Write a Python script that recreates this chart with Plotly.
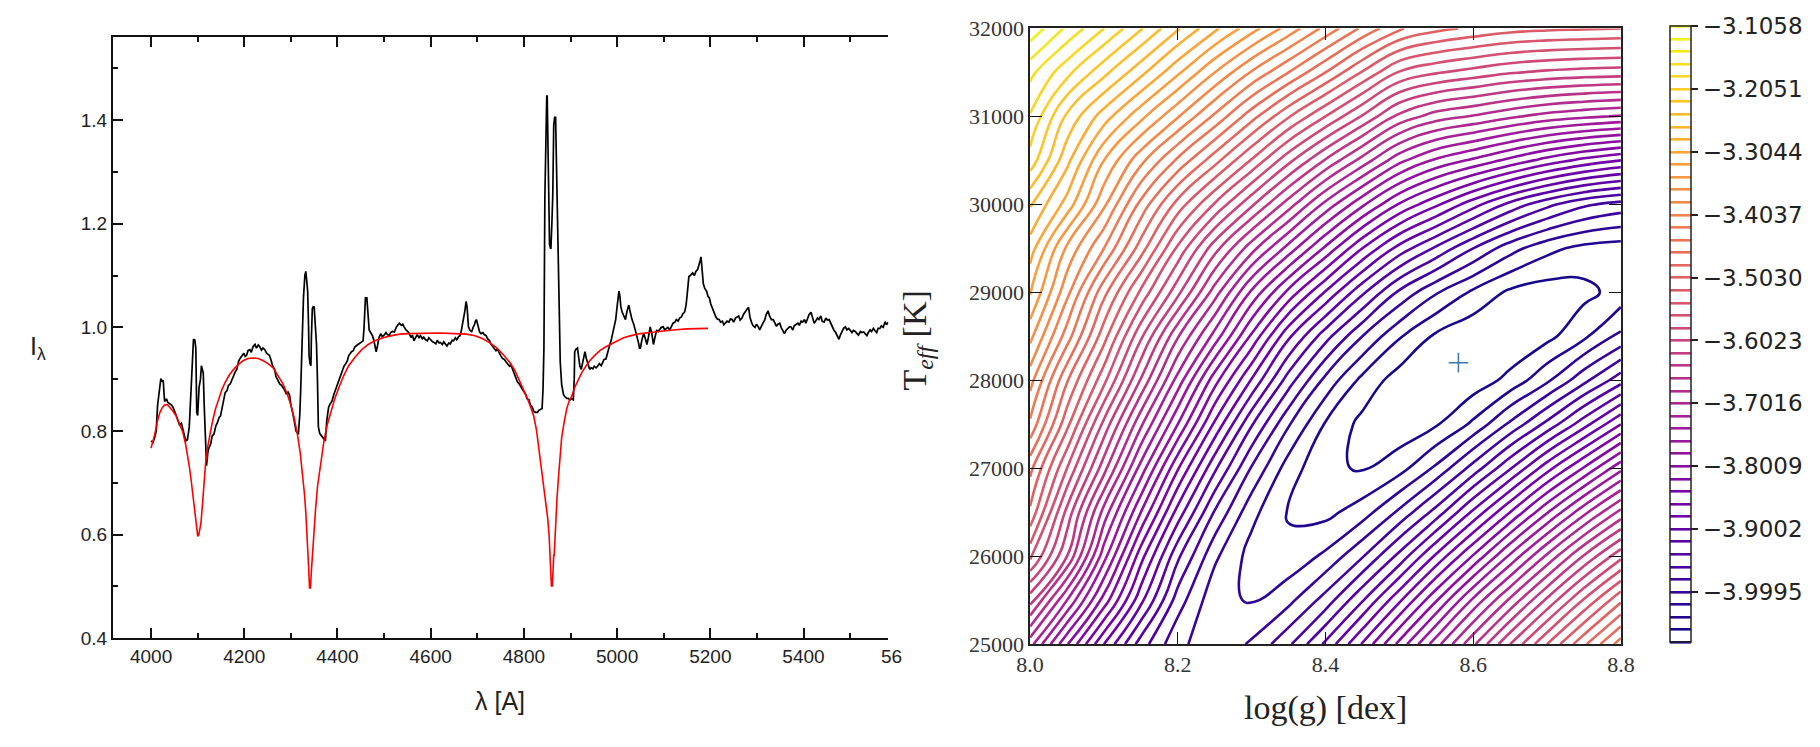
import plotly.graph_objects as go

# ---------------- left panel: observed spectrum and model fit ----------------
wl_obs = [4000,4004,4008,4011,4014,4018,4021,4024,4026,4029,4033,4036,4040,4044,4047,4051,4054,4057,4061,4065,4068,4072,4075,4078,4082,4085,4087,4089,4091,4094,4096,4098,4100,4103,4106,4108,4110,4112,4114,4116,4119,4122,4124,4128,4131,4135,4139,4142,4146,4149,4153,4156,4159,4163,4166,4170,4174,4177,4181,4184,4188,4191,4195,4199,4202,4205,4208,4212,4215,4219,4223,4226,4230,4233,4237,4240,4244,4248,4251,4254,4258,4261,4265,4268,4272,4276,4280,4283,4286,4290,4294,4297,4300,4304,4307,4311,4316,4319,4321,4324,4327,4330,4332,4334,4336,4338,4339,4341,4343,4344,4346,4348,4350,4352,4355,4357,4359,4362,4365,4367,4371,4374,4377,4381,4384,4388,4392,4396,4400,4403,4407,4410,4414,4417,4421,4424,4427,4430,4434,4437,4441,4444,4448,4451,4455,4457,4459,4460,4463,4465,4468,4471,4475,4478,4481,4483,4486,4489,4493,4496,4500,4504,4507,4511,4514,4518,4522,4526,4530,4533,4537,4540,4543,4547,4551,4554,4558,4561,4564,4568,4571,4575,4578,4582,4585,4589,4593,4596,4600,4604,4607,4611,4614,4618,4621,4625,4628,4632,4635,4639,4642,4646,4649,4653,4656,4660,4663,4666,4668,4670,4673,4676,4678,4681,4684,4688,4691,4694,4696,4698,4701,4705,4708,4712,4715,4719,4722,4726,4729,4733,4736,4740,4743,4747,4750,4754,4758,4762,4765,4769,4772,4776,4779,4783,4786,4790,4793,4797,4800,4804,4807,4811,4814,4818,4821,4825,4829,4832,4836,4839,4841,4843,4845,4847,4849,4850,4852,4853,4855,4857,4858,4860,4862,4864,4866,4868,4870,4872,4874,4876,4878,4881,4885,4888,4892,4895,4899,4902,4906,4908,4909,4912,4915,4917,4920,4923,4926,4929,4931,4934,4938,4941,4944,4948,4951,4955,4958,4962,4966,4969,4972,4976,4980,4983,4987,4990,4994,4997,5000,5002,5004,5006,5008,5011,5014,5016,5018,5021,5023,5025,5028,5030,5032,5036,5039,5043,5046,5048,5050,5053,5055,5057,5060,5062,5064,5067,5069,5071,5074,5076,5078,5081,5083,5085,5088,5092,5095,5099,5102,5106,5109,5113,5116,5120,5124,5127,5131,5134,5138,5141,5145,5148,5150,5152,5154,5157,5160,5162,5166,5169,5173,5176,5178,5180,5182,5183,5185,5188,5192,5195,5198,5201,5205,5208,5212,5215,5219,5222,5226,5229,5233,5236,5240,5243,5247,5250,5254,5257,5261,5264,5268,5271,5275,5278,5282,5285,5289,5292,5296,5299,5303,5306,5310,5313,5317,5320,5324,5327,5331,5335,5338,5342,5345,5349,5352,5356,5359,5363,5366,5370,5373,5377,5380,5384,5388,5391,5395,5398,5402,5405,5409,5412,5416,5419,5423,5426,5430,5433,5437,5440,5444,5448,5451,5455,5458,5462,5465,5469,5472,5476,5479,5483,5486,5490,5493,5497,5500,5504,5507,5511,5515,5518,5522,5525,5529,5532,5536,5539,5543,5546,5550,5553,5557,5560,5564,5567,5571,5575,5578,5582]
flux_obs = [0.781,0.778,0.788,0.800,0.850,0.880,0.901,0.895,0.898,0.857,0.862,0.855,0.853,0.850,0.846,0.838,0.830,0.822,0.812,0.815,0.801,0.790,0.781,0.783,0.808,0.860,0.884,0.930,0.977,0.975,0.960,0.836,0.830,0.884,0.900,0.926,0.918,0.912,0.850,0.781,0.733,0.760,0.767,0.775,0.790,0.794,0.810,0.815,0.826,0.829,0.845,0.862,0.874,0.878,0.888,0.891,0.900,0.908,0.915,0.919,0.935,0.940,0.946,0.950,0.944,0.946,0.955,0.957,0.952,0.963,0.967,0.960,0.966,0.963,0.956,0.960,0.957,0.950,0.948,0.946,0.935,0.925,0.919,0.905,0.898,0.891,0.888,0.884,0.880,0.872,0.875,0.870,0.850,0.835,0.822,0.800,0.794,0.830,0.877,0.980,1.057,1.100,1.108,1.090,1.070,1.000,0.946,0.930,0.926,0.980,1.036,1.040,1.039,1.010,0.967,0.900,0.808,0.795,0.792,0.788,0.785,0.781,0.820,0.846,0.852,0.857,0.870,0.880,0.890,0.898,0.910,0.915,0.925,0.929,0.935,0.945,0.950,0.953,0.955,0.962,0.965,0.967,0.970,0.972,0.974,1.000,1.040,1.057,1.057,1.030,0.995,0.990,0.984,0.975,0.960,0.953,0.965,0.980,0.988,0.982,0.985,0.990,0.986,0.984,0.990,0.992,0.991,1.000,1.005,1.008,1.004,1.006,1.001,0.995,0.992,0.988,0.980,0.985,0.974,0.982,0.986,0.980,0.984,0.978,0.981,0.976,0.974,0.980,0.975,0.972,0.971,0.968,0.975,0.970,0.971,0.967,0.972,0.966,0.964,0.970,0.968,0.975,0.974,0.980,0.976,0.982,0.984,0.995,1.010,1.015,1.030,1.050,1.040,1.001,0.995,0.991,1.000,1.005,1.012,1.015,1.005,0.991,0.988,0.990,0.986,0.984,0.978,0.975,0.968,0.964,0.960,0.955,0.958,0.950,0.946,0.940,0.938,0.933,0.930,0.925,0.928,0.919,0.910,0.900,0.895,0.891,0.885,0.880,0.876,0.870,0.862,0.860,0.850,0.846,0.838,0.836,0.836,0.840,0.842,0.843,0.880,0.960,1.250,1.400,1.446,1.446,1.300,1.264,1.160,1.153,1.153,1.200,1.257,1.390,1.405,1.405,1.300,1.167,1.100,1.000,0.933,0.890,0.870,0.866,0.863,0.863,0.860,0.862,0.860,0.900,0.953,0.958,0.960,0.946,0.926,0.919,0.930,0.946,0.953,0.940,0.926,0.919,0.922,0.920,0.925,0.922,0.925,0.930,0.926,0.932,0.938,0.939,0.950,0.962,0.974,0.985,1.000,1.015,1.040,1.060,1.070,1.060,1.040,1.029,1.022,1.020,1.015,1.030,1.040,1.043,1.030,1.018,1.015,1.005,0.995,0.985,0.970,0.960,0.960,0.975,0.985,0.988,0.980,0.970,0.967,0.980,0.995,1.001,0.990,0.975,0.967,0.980,0.990,0.995,0.992,0.998,1.000,1.001,0.995,0.998,1.000,0.995,1.002,1.008,1.010,1.015,1.012,1.018,1.020,1.026,1.030,1.043,1.060,1.085,1.098,1.100,1.102,1.105,1.100,1.108,1.112,1.120,1.128,1.136,1.120,1.100,1.084,1.075,1.070,1.060,1.057,1.045,1.035,1.029,1.020,1.016,1.015,1.010,1.012,1.005,1.008,1.012,1.010,1.016,1.015,1.010,1.018,1.020,1.022,1.014,1.018,1.025,1.029,1.034,1.039,1.020,1.008,1.003,1.000,1.006,1.001,0.995,1.003,1.008,1.015,1.025,1.032,1.022,1.015,1.015,1.010,1.002,1.006,1.008,1.000,0.993,0.988,0.995,0.998,1.001,1.001,0.995,1.003,1.006,1.008,1.004,1.012,1.010,1.015,1.008,1.020,1.025,1.029,1.018,1.008,1.012,1.018,1.015,1.022,1.012,1.010,1.018,1.014,1.015,1.008,1.000,0.995,0.990,0.985,0.977,0.985,0.992,0.998,1.001,0.995,0.998,0.995,0.990,0.994,0.992,0.988,0.985,0.992,0.990,0.991,0.988,0.984,0.990,0.995,0.992,0.998,0.994,0.990,0.998,0.998,1.003,1.000,1.011,1.005,1.010]

wl_fit = [4000,4008,4014,4019,4024,4029,4035,4040,4047,4054,4061,4068,4074,4078,4082,4086,4090,4093,4096,4098,4100,4102,4104,4107,4110,4114,4117,4121,4126,4131,4138,4145,4152,4159,4168,4177,4188,4198,4208,4219,4230,4240,4251,4262,4272,4283,4292,4300,4307,4314,4320,4325,4329,4332,4335,4338,4340,4342,4344,4346,4349,4353,4357,4362,4366,4371,4378,4385,4394,4403,4413,4424,4438,4452,4466,4480,4498,4516,4534,4551,4580,4621,4650,4677,4695,4712,4727,4741,4755,4769,4780,4790,4799,4807,4815,4821,4827,4832,4837,4842,4847,4851,4854,4856,4857,4858,4859,4861,4862,4864,4865,4867,4869,4871,4875,4878,4881,4886,4892,4897,4902,4909,4917,4925,4933,4941,4951,4963,4975,4987,5000,5014,5030,5050,5071,5095,5120,5150,5170,5195]
flux_fit = [0.767,0.794,0.820,0.836,0.845,0.850,0.851,0.846,0.838,0.829,0.815,0.798,0.775,0.757,0.732,0.705,0.672,0.650,0.625,0.605,0.598,0.598,0.607,0.622,0.655,0.705,0.738,0.767,0.793,0.815,0.842,0.863,0.880,0.894,0.908,0.919,0.929,0.936,0.940,0.941,0.940,0.936,0.930,0.922,0.907,0.891,0.872,0.850,0.825,0.794,0.758,0.719,0.680,0.643,0.600,0.539,0.497,0.497,0.530,0.560,0.605,0.650,0.692,0.726,0.755,0.781,0.812,0.836,0.862,0.884,0.906,0.926,0.943,0.957,0.967,0.974,0.980,0.984,0.987,0.988,0.989,0.989,0.988,0.987,0.984,0.978,0.970,0.961,0.948,0.933,0.918,0.899,0.882,0.864,0.845,0.829,0.802,0.767,0.737,0.705,0.665,0.632,0.600,0.560,0.560,0.530,0.501,0.501,0.530,0.560,0.560,0.600,0.640,0.670,0.720,0.757,0.787,0.815,0.843,0.858,0.866,0.884,0.900,0.914,0.925,0.935,0.945,0.955,0.962,0.968,0.974,0.980,0.984,0.988,0.990,0.993,0.995,0.997,0.998,0.998]

wl_ticks = [4000, 4200, 4400, 4600, 4800, 5000, 5200, 5400, 5600]
flux_ticks = [0.4, 0.6, 0.8, 1.0, 1.2, 1.4]

# ---------------- right panel: goodness-of-fit map ----------------
logg_grid = [8.00, 8.05, 8.10, 8.15, 8.20, 8.25, 8.30, 8.35, 8.40, 8.45, 8.50, 8.55, 8.60, 8.65, 8.70, 8.75, 8.80]
teff_grid = [25000, 25500, 26000, 26500, 27000, 27500, 28000, 28500, 29000, 29500, 30000, 30500, 31000, 31500, 32000]
# contour level index (0 = lowest level -4.0789, 49 = highest level -3.1058), one row per Teff
level_index = [
    [18.4, 14.1, 10.0, 6.5, 4.2, 3.5, 4.1, 5.8, 8.2, 11.1, 14.3, 17.6, 20.8, 24.0, 27.0, 29.8, 32.5],
    [22.4, 18.0, 13.6, 9.3, 5.5, 3.3, 2.9, 3.7, 5.4, 7.9, 10.8, 13.9, 17.2, 20.2, 23.2, 26.1, 28.8],
    [26.3, 22.0, 16.4, 11.4, 7.2, 4.2, 2.6, 2.3, 3.2, 4.9, 7.3, 10.2, 13.1, 16.2, 19.2, 22.1, 24.7],
    [28.8, 23.7, 18.6, 14.0, 9.6, 5.9, 3.3, 1.9, 1.7, 2.5, 4.2, 6.4, 9.2, 12.0, 14.9, 17.7, 20.3],
    [30.3, 26.0, 21.4, 16.6, 12.1, 8.2, 4.9, 2.5, 1.2, 0.9, 1.6, 3.2, 5.4, 7.9, 10.6, 13.1, 15.7],
    [32.8, 28.3, 23.7, 19.2, 15.0, 10.8, 7.1, 4.1, 1.9, 0.7, 0.3, 0.9, 2.2, 4.2, 6.3, 8.6, 11.0],
    [34.4, 30.1, 26.3, 21.9, 17.6, 13.4, 9.9, 6.5, 3.7, 1.7, 0.5, 0.0, 0.4, 1.3, 2.8, 4.7, 6.6],
    [36.3, 32.5, 28.4, 24.2, 20.1, 16.6, 12.8, 9.2, 6.4, 4.0, 2.1, 0.8, 0.2, 0.1, 0.7, 1.8, 3.2],
    [38.1, 34.3, 30.3, 26.8, 23.3, 19.5, 15.8, 12.7, 9.9, 7.2, 4.8, 3.1, 1.8, 0.8, 0.5, 0.7, 1.4],
    [39.5, 35.8, 33.0, 29.5, 25.8, 22.4, 19.4, 16.6, 13.8, 11.0, 8.6, 6.8, 5.0, 3.4, 2.3, 1.7, 1.5],
    [41.1, 38.6, 35.2, 31.7, 28.6, 25.9, 23.2, 20.5, 17.7, 15.2, 12.9, 11.2, 9.4, 7.7, 6.3, 5.2, 4.6],
    [43.6, 40.3, 37.0, 34.3, 31.8, 29.4, 26.9, 24.3, 21.9, 19.6, 17.3, 15.8, 14.8, 13.7, 12.6, 11.7, 11.0],
    [44.9, 41.8, 39.5, 37.3, 35.1, 32.8, 30.4, 28.1, 26.0, 23.9, 21.7, 20.5, 19.9, 19.2, 18.6, 18.2, 17.9],
    [46.3, 44.3, 42.3, 40.3, 38.2, 36.0, 33.9, 32.0, 30.0, 27.9, 25.9, 25.1, 24.6, 24.1, 23.8, 23.6, 23.5],
    [48.7, 46.8, 45.0, 43.1, 41.1, 39.2, 37.4, 35.6, 33.7, 31.8, 30.1, 29.3, 28.8, 28.4, 28.2, 28.1, 28.0],
]
level_min = -4.0789
level_max = -3.1058
level_step = 0.019859
best_logg = [8.58]
best_teff = [28200]
cbar_ticks = [-3.1058, -3.2051, -3.3044, -3.4037, -3.5030, -3.6023, -3.7016, -3.8009, -3.9002, -3.9995]
logg_ticks = [8.0, 8.2, 8.4, 8.6, 8.8]
teff_ticks = [25000, 26000, 27000, 28000, 29000, 30000, 31000, 32000]

fit_map = [[level_min + level_step*k for k in row] for row in level_index]

fig = go.Figure()
fig.add_trace(go.Scatter(x=wl_obs, y=flux_obs, mode='lines', line=dict(color='black', width=1.7),
                         xaxis='x', yaxis='y', showlegend=False))
fig.add_trace(go.Scatter(x=wl_fit, y=flux_fit, mode='lines', line=dict(color='#ff0000', width=1.6),
                         xaxis='x', yaxis='y', showlegend=False))

fig.add_trace(go.Contour(
    x=logg_grid, y=teff_grid, z=fit_map, xaxis='x2', yaxis='y2', autocontour=False,
    contours=dict(start=level_min, end=level_max, size=level_step, coloring='lines'),
    line=dict(width=2.6, smoothing=1.3), colorscale='Plasma', zmin=level_min, zmax=level_max,
    colorbar=dict(x=1682/1820, xanchor='left', thickness=21, thicknessmode='pixels', len=637/747, lenmode='fraction',
                  y=95/747, yanchor='bottom', xpad=0, ypad=0, outlinewidth=1.5, outlinecolor='#222',
                  tickvals=cbar_ticks, ticktext=['\u2212%.4f' % abs(v) for v in cbar_ticks], ticks='outside',
                  ticklen=7, tickwidth=1.5, tickcolor='#222',
                  tickfont=dict(family='DejaVu Sans', size=23, color='#222')),
    showscale=True))
fig.add_trace(go.Scatter(x=best_logg, y=best_teff, mode='markers', xaxis='x2', yaxis='y2', showlegend=False,
                         marker=dict(symbol='cross-thin', size=14, line=dict(color='#3d78a8', width=1.5))))

sans = 'Liberation Sans Narrow, Arial Narrow, Liberation Sans, Arial'
serif = 'Liberation Serif, Times New Roman, serif'
fig.update_layout(
    width=1820, height=747, margin=dict(l=0, r=0, t=0, b=0), paper_bgcolor='white', plot_bgcolor='white',
    xaxis=dict(domain=[100.4/1820, 888/1820], range=[3918, 5582], tickvals=wl_ticks,
               ticks='inside', ticklen=10, tickwidth=1.5, tickcolor='#111', showline=True, linewidth=2, linecolor='#111',
               mirror='ticks', showgrid=False, zeroline=False, tickfont=dict(family=sans, size=19, color='#222'),
               minor=dict(dtick=100, tick0=4000, ticks='inside', ticklen=5, tickwidth=1.5, tickcolor='#111')),
    yaxis=dict(domain=[(747-648)/747, (747-26)/747], range=[0.4, 1.56], tickvals=flux_ticks,
               ticktext=['%.1f' % v for v in flux_ticks],
               ticks='inside', ticklen=10, tickwidth=1.5, tickcolor='#111', showline=True, linewidth=2, linecolor='#111',
               showgrid=False, zeroline=False, tickfont=dict(family=sans, size=19, color='#222'),
               minor=dict(dtick=0.1, tick0=0.4, ticks='inside', ticklen=5, tickwidth=1.5, tickcolor='#111')),
    xaxis2=dict(domain=[1032/1820, 1632/1820], range=[8.0, 8.8], tickvals=logg_ticks,
                ticktext=['%.1f' % v for v in logg_ticks], ticks='inside', ticklen=12, tickwidth=1.3, tickcolor='#111',
                showline=True, linewidth=1.5, linecolor='#222', mirror='allticks', showgrid=False, zeroline=False,
                tickfont=dict(family=serif, size=22, color='#333'), anchor='y2'),
    yaxis2=dict(domain=[(747-654)/747, (747-17)/747], range=[25000, 32000], tickvals=teff_ticks,
                ticktext=[str(v) for v in teff_ticks],
                ticks='inside', ticklen=12, tickwidth=1.3, tickcolor='#111', showline=True, linewidth=1.5, linecolor='#222',
                mirror='allticks', showgrid=False, zeroline=False, tickfont=dict(family=serif, size=22, color='#333'),
                anchor='x2'),
    annotations=[
        dict(text='56', x=879/1820, y=(747-667)/747, xref='paper', yref='paper', showarrow=False,
             xanchor='left', yanchor='middle', font=dict(family=sans, size=19, color='#222')),
        dict(text='\u03bb [A]', x=494/1820, y=(747-713)/747, xref='paper', yref='paper', showarrow=False,
             xanchor='center', yanchor='middle', font=dict(family=sans, size=25, color='#222')),
        dict(text='I<sub>\u03bb</sub>', x=24/1820, y=(747-348)/747, xref='paper', yref='paper', showarrow=False,
             xanchor='center', yanchor='middle', font=dict(family=sans, size=25, color='#222')),
        dict(text='log(g) [dex]', x=1332/1820, y=(747-720)/747, xref='paper', yref='paper', showarrow=False,
             xanchor='center', yanchor='middle', font=dict(family=serif, size=34, color='#222')),
        dict(text='T<sub><i>eff</i></sub> [K]', x=917/1820, y=(747-340)/747, xref='paper', yref='paper',
             showarrow=False, xanchor='center', yanchor='middle', textangle=-90,
             font=dict(family=serif, size=34, color='#222')),
    ],
)
fig.write_html('out.html')
